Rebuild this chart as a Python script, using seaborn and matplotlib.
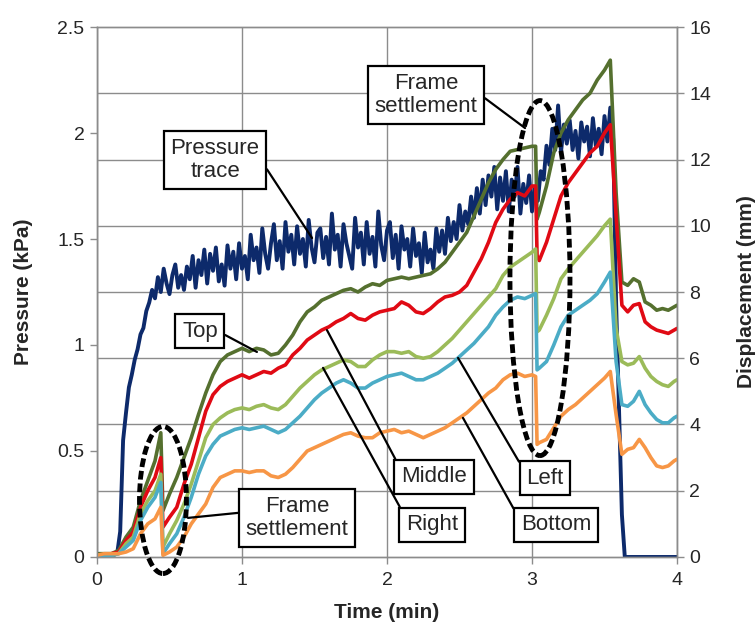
import numpy as np
import pandas as pd
import seaborn as sns
import matplotlib
matplotlib.use("Agg")
import matplotlib.pyplot as plt
from matplotlib.patches import Ellipse
from matplotlib.ticker import MultipleLocator, FuncFormatter

# pressure trace (kPa), sampled every 0.02 min from 0 to 4
pressure_time = [round(0.02 * i, 2) for i in range(201)]
pressure_kpa = [
    0.01, 0.01, 0.01, 0.01, 0.01, 0.01, 0.01, 0.02, 0.12, 0.55,
    0.68, 0.80, 0.86, 0.93, 0.98, 1.05, 1.08, 1.16, 1.20, 1.26,
    1.22, 1.32, 1.25, 1.36, 1.29, 1.24, 1.33, 1.38, 1.27, 1.33,
    1.26, 1.37, 1.31, 1.42, 1.27, 1.40, 1.33, 1.45, 1.29, 1.43,
    1.35, 1.46, 1.30, 1.38, 1.28, 1.47, 1.36, 1.44, 1.31, 1.48,
    1.36, 1.42, 1.31, 1.52, 1.40, 1.46, 1.34, 1.55, 1.43, 1.36,
    1.48, 1.57, 1.40, 1.49, 1.36, 1.58, 1.44, 1.52, 1.38, 1.56,
    1.43, 1.50, 1.37, 1.59, 1.46, 1.39, 1.53, 1.55, 1.41, 1.51,
    1.38, 1.62, 1.45, 1.52, 1.37, 1.57, 1.48, 1.42, 1.36, 1.60,
    1.46, 1.53, 1.38, 1.58, 1.43, 1.51, 1.37, 1.63, 1.47, 1.40,
    1.54, 1.58, 1.41, 1.52, 1.36, 1.56, 1.45, 1.50, 1.37, 1.55,
    1.42, 1.48, 1.34, 1.53, 1.39, 1.45, 1.36, 1.55, 1.44, 1.54,
    1.43, 1.60, 1.49, 1.58, 1.50, 1.66, 1.54, 1.63, 1.57, 1.70,
    1.60, 1.74, 1.62, 1.78, 1.66, 1.80, 1.70, 1.84, 1.64, 1.79,
    1.68, 1.82, 1.63, 1.78, 1.70, 1.84, 1.62, 1.76, 1.67, 1.80,
    1.63, 1.74, 1.68, 1.82, 1.78, 1.94, 1.85, 2.02, 1.92, 2.13,
    1.91, 2.04, 1.95, 2.06, 1.92, 2.01, 1.88, 2.05, 1.96, 2.03,
    1.89, 2.07, 1.94, 2.02, 1.90, 2.08, 1.96, 2.12, 1.97, 1.20,
    0.70, 0.20, 0.00, 0.00, 0.00, 0.00, 0.00, 0.00, 0.00, 0.00,
    0.00, 0.00, 0.00, 0.00, 0.00, 0.00, 0.00, 0.00, 0.00, 0.00,
    0.00,
]

# displacement (mm)
disp_time = [
    0.00, 0.05, 0.10, 0.15, 0.20, 0.25, 0.30, 0.35, 0.40, 0.44, 0.455,
    0.50, 0.55, 0.60, 0.65, 0.70, 0.75, 0.80, 0.85, 0.90, 0.95,
    1.00, 1.05, 1.10, 1.15, 1.20, 1.25, 1.30, 1.35, 1.40, 1.45,
    1.50, 1.55, 1.60, 1.65, 1.70, 1.75, 1.80, 1.85, 1.90, 1.95,
    2.00, 2.05, 2.10, 2.15, 2.20, 2.25, 2.30, 2.35, 2.40, 2.45,
    2.50, 2.55, 2.60, 2.65, 2.70, 2.75, 2.80, 2.85, 2.90, 2.95,
    3.00, 3.025, 3.035, 3.05, 3.10, 3.15, 3.20, 3.25, 3.30, 3.35,
    3.40, 3.45, 3.50, 3.54, 3.58, 3.62, 3.66, 3.70, 3.74, 3.78,
    3.82, 3.86, 3.90, 3.94, 3.98, 4.00,
]
top_mm = [
    0.1, 0.1, 0.1, 0.2, 0.6, 0.9, 1.7, 2.3, 2.9, 3.75, 1.4,
    1.9, 2.4, 3.0, 3.6, 4.3, 4.95, 5.5, 5.9, 6.1, 6.2,
    6.3, 6.2, 6.3, 6.25, 6.1, 6.15, 6.4, 6.7, 7.1, 7.4,
    7.55, 7.75, 7.85, 7.95, 8.05, 8.1, 8.0, 8.15, 8.25, 8.2,
    8.35, 8.4, 8.45, 8.4, 8.45, 8.5, 8.55, 8.7, 8.9, 9.2,
    9.5, 9.8, 10.3, 10.8, 11.3, 11.7, 12.0, 12.25, 12.3, 12.35,
    12.4, 12.4, 10.2, 10.4, 11.2, 12.2, 12.8, 13.2, 13.5, 13.8,
    14.0, 14.4, 14.7, 15.0, 11.0, 8.3, 8.2, 8.4, 8.3, 7.7,
    7.6, 7.45, 7.5, 7.45, 7.55, 7.6,
]
middle_mm = [
    0.05, 0.05, 0.1, 0.15, 0.5, 0.75, 1.5, 2.0, 2.4, 3.0, 0.9,
    1.2, 1.5, 2.2, 2.8, 3.6, 4.4, 4.9, 5.15, 5.3, 5.4,
    5.5, 5.4, 5.5, 5.6, 5.55, 5.7, 5.8, 6.1, 6.3, 6.55,
    6.7, 6.85, 6.95, 7.1, 7.2, 7.35, 7.2, 7.15, 7.3, 7.4,
    7.45, 7.5, 7.7, 7.6, 7.4, 7.35, 7.5, 7.7, 7.85, 7.9,
    8.0, 8.2, 8.6, 9.0, 9.5, 10.1, 10.5, 10.8, 11.0, 10.9,
    11.2, 11.2, 9.1, 8.95, 9.5, 10.2, 10.9, 11.3, 11.6, 11.9,
    12.2, 12.4, 12.8, 13.05, 10.3, 7.6, 7.4, 7.6, 7.65, 7.1,
    6.95, 6.85, 6.8, 6.75, 6.85, 6.9,
]
right_mm = [
    0.05, 0.05, 0.05, 0.1, 0.4, 0.6, 1.3, 1.7, 2.0, 2.5, 0.3,
    0.7, 1.1, 1.6, 2.2, 2.9, 3.6, 4.0, 4.2, 4.35, 4.45,
    4.5, 4.45, 4.55, 4.6, 4.5, 4.45, 4.6, 4.85, 5.1, 5.3,
    5.5, 5.65, 5.75, 5.85, 5.95, 5.9, 5.75, 5.75, 5.95, 6.1,
    6.2, 6.2, 6.15, 6.2, 6.05, 6.0, 6.05, 6.2, 6.4, 6.6,
    6.85, 7.1, 7.35, 7.6, 7.85, 8.1, 8.5, 8.75, 8.9, 9.05,
    9.2, 9.3, 6.8, 6.85, 7.3, 7.8, 8.4, 8.7, 8.95, 9.2,
    9.45, 9.7, 10.0, 10.2, 6.9, 5.9, 5.8, 5.85, 6.05, 5.7,
    5.45, 5.3, 5.2, 5.15, 5.3, 5.35,
]
left_mm = [
    0.05, 0.05, 0.05, 0.1, 0.3, 0.5, 1.1, 1.5, 1.8, 2.25, 0.1,
    0.4, 0.7, 1.2, 1.8, 2.5, 3.05, 3.4, 3.65, 3.75, 3.85,
    3.9, 3.85, 3.9, 3.95, 3.85, 3.75, 3.85, 4.05, 4.25, 4.5,
    4.75, 4.95, 5.1, 5.25, 5.35, 5.25, 5.1, 5.1, 5.25, 5.35,
    5.45, 5.5, 5.55, 5.45, 5.35, 5.35, 5.45, 5.55, 5.7, 5.85,
    6.05, 6.25, 6.45, 6.7, 6.95, 7.3, 7.55, 7.75, 7.85, 7.8,
    7.9, 7.95, 5.65, 5.7, 5.9, 6.4, 6.95, 7.3, 7.45, 7.6,
    7.75, 7.95, 8.3, 8.6, 5.9, 4.6, 4.55, 4.7, 5.0, 4.6,
    4.35, 4.15, 4.05, 4.05, 4.2, 4.25,
]
bottom_mm = [
    0.05, 0.1, 0.1, 0.1, 0.15, 0.25, 0.7, 1.0, 1.15, 1.5, 0.05,
    0.15, 0.3, 0.6, 1.0, 1.3, 1.6, 2.1, 2.4, 2.5, 2.6,
    2.6, 2.55, 2.6, 2.6, 2.45, 2.4, 2.5, 2.7, 2.95, 3.2,
    3.3, 3.4, 3.5, 3.6, 3.7, 3.75, 3.65, 3.6, 3.6, 3.75,
    3.8, 3.85, 3.75, 3.8, 3.7, 3.6, 3.7, 3.8, 3.9, 4.05,
    4.2, 4.35, 4.55, 4.75, 4.95, 5.1, 5.35, 5.5, 5.55, 5.45,
    5.5, 5.45, 3.4, 3.45, 3.55, 3.9, 4.25, 4.45, 4.6, 4.8,
    5.0, 5.2, 5.4, 5.6, 4.3, 3.1, 3.25, 3.3, 3.55, 3.3,
    3.0, 2.75, 2.7, 2.75, 2.9, 2.95,
]

series_names = ["Top", "Middle", "Right", "Left", "Bottom"]
series_colors = ["#55702f", "#e00a14", "#9bbb59", "#4bacc6", "#f79646"]
pressure_color = "#0d2a6b"

disp = pd.DataFrame({
    "time": disp_time * 5,
    "disp": top_mm + middle_mm + right_mm + left_mm + bottom_mm,
    "pos": sum([[n] * len(disp_time) for n in series_names], []),
})
press = pd.DataFrame({"time": pressure_time, "kpa": pressure_kpa})

sns.set_theme(style="white")
plt.rcParams["font.family"] = ["Liberation Sans", "DejaVu Sans"]

grey = "#8c8c8c"
fig = plt.figure(figsize=(7.56, 6.33), dpi=100)
ax = fig.add_axes([0.1283, 0.1201, 0.7672, 0.8372])
ax2 = ax.twinx()

sns.lineplot(data=press, x="time", y="kpa", ax=ax, color=pressure_color,
             lw=2.8, estimator=None, sort=False)
sns.lineplot(data=disp, x="time", y="disp", hue="pos", hue_order=series_names,
             palette=series_colors, ax=ax2, lw=2.6, estimator=None,
             sort=False, legend=False)

ax.set_xlim(0, 4)
ax.set_ylim(0, 2.5)
ax2.set_ylim(0, 16)
ax.xaxis.set_major_locator(MultipleLocator(1))
ax.yaxis.set_major_locator(MultipleLocator(0.5))
ax.yaxis.set_minor_locator(MultipleLocator(2.5 / 8))
ax2.yaxis.set_major_locator(MultipleLocator(2))
ax.yaxis.set_major_formatter(FuncFormatter(lambda v, _: f"{v:g}"))
ax.set_axisbelow(True)
ax.grid(axis="y", which="minor", color=grey, lw=1)
ax.grid(axis="x", which="major", color=grey, lw=1)
ax.tick_params(axis="y", which="minor", length=0)
for a in (ax, ax2):
    a.tick_params(which="major", length=5, width=1, color=grey,
                  labelsize=14, pad=4, labelcolor="#262626")
    for sp in a.spines.values():
        sp.set_color(grey)
        sp.set_linewidth(1)
ax.tick_params(axis="x", direction="out", bottom=True, pad=6)
ax.tick_params(axis="y", direction="out", left=True)
ax2.tick_params(axis="y", direction="out", right=True)

ax.set_xlabel("Time (min)", fontsize=15, fontweight="bold")
ax.set_ylabel("Pressure (kPa)", fontsize=15, fontweight="bold")
ax2.set_ylabel("Displacement (mm)", fontsize=15, fontweight="bold")
ax.xaxis.set_label_coords(0.5, -0.087)
ax.yaxis.set_label_coords(-0.11, 0.5)
ax2.yaxis.set_label_coords(1.103, 0.5)

# dashed ellipses around the frame settlement events
for cx, cy, w, h in [(0.455, 1.72, 0.324, 4.44), (3.055, 8.42, 0.414, 10.72)]:
    ax2.add_patch(Ellipse((cx, cy), w, h, fill=False, ec="black", lw=3.5,
                          ls=(0, (1.8, 0.8)), clip_on=False, zorder=5))

box = dict(boxstyle="square,pad=0.3", fc="white", ec="black", lw=1.6)
notes = [
    ("Pressure\ntrace", (0.814, 11.98), (1.483, 9.63), (1.0, 0.55)),
    ("Frame\nsettlement", (2.27, 13.95), (2.952, 12.95), (1.0, 0.55)),
    ("Frame\nsettlement", (1.379, 1.18), (0.628, 1.18), (0.0, 0.63)),
    ("Top", (0.71, 6.82), (1.103, 6.19), (1.0, 0.5)),
    ("Middle", (2.324, 2.42), (1.586, 6.85), (0.0, 0.83)),
    ("Right", (2.31, 0.97), (1.559, 5.71), (0.0, 0.83)),
    ("Left", (3.09, 2.38), (2.49, 6.01), (0.0, 0.68)),
    ("Bottom", (3.166, 0.97), (2.524, 4.2), (0.0, 0.65)),
]
for label, xytext, xy, rel in notes:
    ax2.annotate(label, xy=xy, xytext=xytext, ha="center", va="center",
                 fontsize=16, linespacing=1.15, bbox=box, zorder=6,
                 arrowprops=dict(arrowstyle="-", color="black", lw=1.6,
                                 relpos=rel, shrinkA=0, shrinkB=0))

fig.savefig("out.png", dpi=100)
